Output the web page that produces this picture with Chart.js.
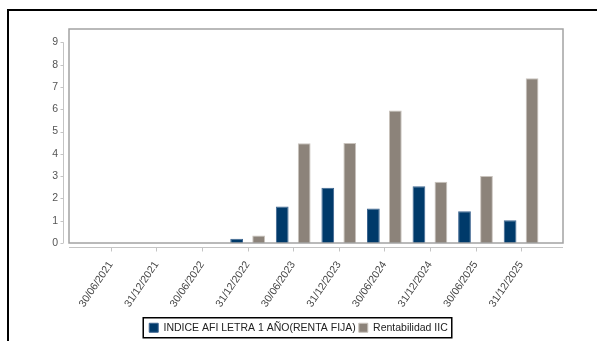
<!DOCTYPE html>
<html lang="es">
<head>
    <meta charset="UTF-8">
    <title>Rentabilidad</title>
    <style>
        html, body { margin: 0; padding: 0; background: #fff; }
        #wrap { width: 597px; height: 341px; }
    </style>
</head>
<body>
    <div id="wrap">
        <canvas id="myChart"></canvas>
    </div>

    <script src="https://cdn.jsdelivr.net/npm/chart.js"></script>
    <script>
        const fechas = ['30/06/2021', '31/12/2021', '30/06/2022', '31/12/2022', '30/06/2023',
                        '31/12/2023', '30/06/2024', '31/12/2024', '30/06/2025', '31/12/2025'];
        const indiceAfi = [null, null, null, 0.19, 1.64, 2.48, 1.55, 2.55, 1.42, 1.02];
        const rentabilidadIic = [null, null, null, 0.34, 4.48, 4.49, 5.94, 2.75, 3.01, 7.39];
        const yTicks = [0, 1, 2, 3, 4, 5, 6, 7, 8, 9];

        const toPoints = (arr) => arr.map((v, i) => ({ x: i, y: v }));
        const padAbajo = -2;

        // marco exterior, caja del grafico, ejes separados y borde de la leyenda
        const decor = {
            id: 'decor',
            afterDraw(chart) {
                const c = chart.ctx;
                const a = chart.chartArea;
                const xs = chart.scales.x;
                const ys = chart.scales.y;
                c.save();

                c.strokeStyle = '#000';
                c.lineWidth = 2;
                c.strokeRect(8, 10, 620, 360);

                c.strokeStyle = '#a3a3a3';
                c.lineWidth = 1.5;
                c.strokeRect(a.left, a.top, a.right - a.left, a.bottom - a.top);

                c.strokeStyle = '#c4c4c4';
                c.lineWidth = 1;
                // eje y
                const yx = a.left - 5.5;
                c.beginPath();
                c.moveTo(yx, ys.getPixelForValue(yTicks[yTicks.length - 1]));
                c.lineTo(yx, ys.getPixelForValue(0));
                yTicks.forEach(t => {
                    const p = Math.round(ys.getPixelForValue(t)) + 0.5;
                    c.moveTo(yx, p);
                    c.lineTo(yx - 3, p);
                });
                // eje x
                const xy = a.bottom + 4.5;
                c.moveTo(a.left, xy);
                c.lineTo(a.right, xy);
                fechas.forEach((f, i) => {
                    const p = Math.round(xs.getPixelForValue(i)) + 0.5;
                    c.moveTo(p, xy);
                    c.lineTo(p, xy + 4);
                });
                c.stroke();

                // borde de la leyenda
                const hb = chart.legend.legendHitBoxes;
                if (hb && hb.length) {
                    const first = hb[0];
                    const last = hb[hb.length - 1];
                    const cy = first.top + first.height / 2;
                    c.strokeStyle = '#000';
                    c.lineWidth = 1.5;
                    c.strokeRect(first.left - 6, cy - 10, last.left + last.width - first.left + 10, 20);
                }
                c.restore();
            }
        };

        const ctx = document.getElementById('myChart');

        new Chart(ctx, {
            type: 'bar',
            data: {
                datasets: [{
                    label: 'INDICE AFI LETRA 1 AÑO(RENTA FIJA)',
                    data: toPoints(indiceAfi),
                    backgroundColor: '#003a6a',
                    borderColor: '#3d6590',
                    borderWidth: 1
                }, {
                    label: 'Rentabilidad IIC',
                    data: toPoints(rentabilidadIic),
                    backgroundColor: '#8c837a',
                    borderColor: '#c9c3bd',
                    borderWidth: 1
                }]
            },
            options: {
                responsive: true,
                maintainAspectRatio: false,
                animation: false,
                categoryPercentage: 0.965,
                barPercentage: 0.58,
                layout: {
                    padding: { top: 29, right: 0, bottom: padAbajo, left: 0 }
                },
                plugins: {
                    tooltip: { enabled: false },
                    legend: {
                        position: 'bottom',
                        labels: {
                            boxWidth: 9,
                            boxHeight: 9,
                            padding: 3,
                            color: '#222',
                            font: { family: 'Liberation Sans, Arial, sans-serif', size: 10.5 }
                        }
                    }
                },
                scales: {
                    x: {
                        type: 'linear',
                        offset: false,
                        min: -0.92,
                        max: 9.92,
                        grid: { display: false },
                        border: { display: false },
                        afterFit: (s) => {
                            s.height = 98 - padAbajo - s.chart.legend.height;
                            s.paddingLeft = 0;
                            s.paddingRight = 0;
                        },
                        ticks: {
                            stepSize: 1,
                            includeBounds: false,
                            autoSkip: false,
                            minRotation: 56,
                            maxRotation: 56,
                            padding: 8,
                            color: '#444',
                            font: { family: 'Liberation Sans, Arial, sans-serif', size: 10.5 },
                            callback: (v) => fechas[v] || ''
                        }
                    },
                    y: {
                        min: 0,
                        max: 9.6,
                        grid: { display: false },
                        border: { display: false },
                        afterFit: (s) => { s.width = 69; },
                        ticks: {
                            stepSize: 1,
                            includeBounds: false,
                            padding: 3,
                            color: '#555',
                            font: { family: 'Liberation Sans, Arial, sans-serif', size: 10.5 }
                        }
                    },
                    derecha: {
                        position: 'right',
                        min: 0,
                        max: 1,
                        grid: { display: false },
                        border: { display: false },
                        ticks: { display: false },
                        afterFit: (s) => { s.width = 34; }
                    }
                }
            },
            plugins: [decor]
        });
    </script>
</body>
</html>
